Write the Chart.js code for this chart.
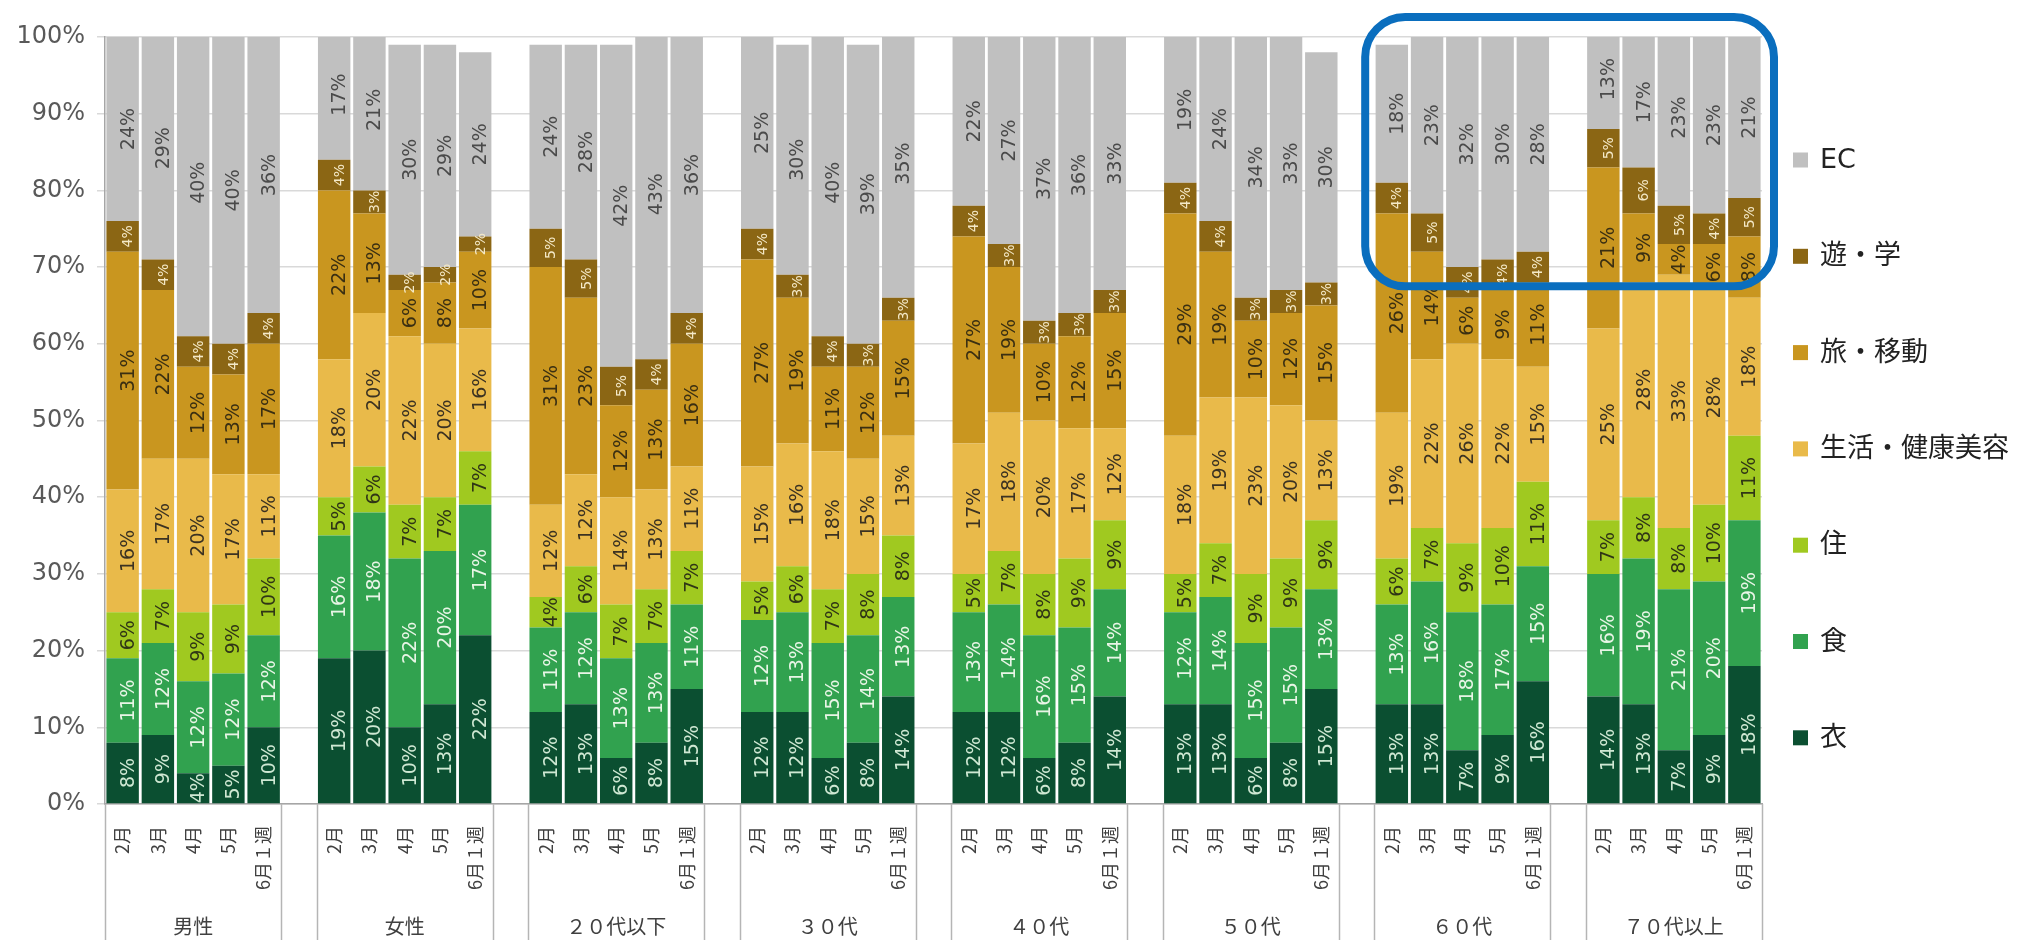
<!DOCTYPE html>
<html>
<head>
<meta charset="utf-8">
<script src="https://cdn.jsdelivr.net/npm/chart.js@4.4.1/dist/chart.umd.min.js"></script>
<style>
  html, body { margin: 0; padding: 0; background: #ffffff; }
  #wrap { width: 2017px; height: 940px; position: relative; }
</style>
</head>
<body>
<div id="wrap"><canvas id="chart" width="2017" height="940"></canvas></div>
<script>
// Respondent segments and survey periods (5 bars per segment)
const groups  = ['男性', '女性', '２０代以下', '３０代', '４０代', '５０代', '６０代', '７０代以上'];
const periods = ['2月', '3月', '4月', '5月', '6月１週'];

// Share of spending by category (%), listed segment by segment, period by period
const clothing = [ 8,  9,  4,  5, 10,   19, 20, 10, 13, 22,   12, 13,  6,  8, 15,   12, 12,  6,  8, 14,
                  12, 12,  6,  8, 14,   13, 13,  6,  8, 15,   13, 13,  7,  9, 16,   14, 13,  7,  9, 18];
const food     = [11, 12, 12, 12, 12,   16, 18, 22, 20, 17,   11, 12, 13, 13, 11,   12, 13, 15, 14, 13,
                  13, 14, 16, 15, 14,   12, 14, 15, 15, 13,   13, 16, 18, 17, 15,   16, 19, 21, 20, 19];
const housing  = [ 6,  7,  9,  9, 10,    5,  6,  7,  7,  7,    4,  6,  7,  7,  7,    5,  6,  7,  8,  8,
                   5,  7,  8,  9,  9,    5,  7,  9,  9,  9,    6,  7,  9, 10, 11,    7,  8,  8, 10, 11];
const living   = [16, 17, 20, 17, 11,   18, 20, 22, 20, 16,   12, 12, 14, 13, 11,   15, 16, 18, 15, 13,
                  17, 18, 20, 17, 12,   18, 19, 23, 20, 13,   19, 22, 26, 22, 15,   25, 28, 33, 28, 18];
const travel   = [31, 22, 12, 13, 17,   22, 13,  6,  8, 10,   31, 23, 12, 13, 16,   27, 19, 11, 12, 15,
                  27, 19, 10, 12, 15,   29, 19, 10, 12, 15,   26, 14,  6,  9, 11,   21,  9,  4,  6,  8];
const leisure  = [ 4,  4,  4,  4,  4,    4,  3,  2,  2,  2,    5,  5,  5,  4,  4,    4,  3,  4,  3,  3,
                   4,  3,  3,  3,  3,    4,  4,  3,  3,  3,    4,  5,  4,  4,  4,    5,  6,  5,  4,  5];
const ecShare  = [24, 29, 40, 40, 36,   17, 21, 30, 29, 24,   24, 28, 42, 43, 36,   25, 30, 40, 39, 35,
                  22, 27, 37, 36, 33,   19, 24, 34, 33, 30,   18, 23, 32, 30, 28,   13, 17, 23, 23, 21];

// Category axis: one slot per bar plus an empty slot between segments
const slotLabels = [];
const slotIndex = [];      // slot -> index into the value arrays (or -1 for a spacer)
groups.forEach((g, gi) => {
  periods.forEach((p, pi) => { slotLabels.push(p); slotIndex.push(gi * periods.length + pi); });
  if (gi < groups.length - 1) { slotLabels.push(''); slotIndex.push(-1); }
});
const spread = arr => slotIndex.map(k => (k < 0 ? null : arr[k]));

const LABEL_FONT = '"DejaVu Sans", "Noto Sans CJK JP", sans-serif';
const JP_FONT = '"Noto Sans CJK JP", "DejaVu Sans", sans-serif';

const series = [
  { label: '衣',             data: clothing, color: '#0B4F31', text: '#CFE8D3', size: 19 },
  { label: '食',             data: food,     color: '#31A24F', text: '#E8F5E6', size: 19 },
  { label: '住',             data: housing,  color: '#A0C920', text: '#2F3516', size: 19 },
  { label: '生活・健康美容', data: living,   color: '#E9BA4A', text: '#3B3222', size: 19 },
  { label: '旅・移動',       data: travel,   color: '#C9961F', text: '#3A2F12', size: 19 },
  { label: '遊・学',         data: leisure,  color: '#8B6614', text: '#F4E9C8', size: 14 },
  { label: 'EC',             data: ecShare,  color: '#C0C0C0', text: '#4A4A4A', size: 19 }
];

// Value labels written vertically inside each segment
const segmentLabels = {
  id: 'segmentLabels',
  afterDatasetsDraw(chart) {
    const ctx = chart.ctx;
    chart.data.datasets.forEach((ds, di) => {
      const meta = chart.getDatasetMeta(di);
      meta.data.forEach((bar, i) => {
        const v = ds.data[i];
        if (v == null) return;
        const { x, y, base } = bar.getProps(['x', 'y', 'base'], true);
        ctx.save();
        ctx.translate(x + 6, (y + base) / 2);
        ctx.rotate(-Math.PI / 2);
        ctx.font = ds.labelSize + 'px ' + LABEL_FONT;
        ctx.fillStyle = ds.labelColor;
        ctx.textAlign = 'center';
        ctx.textBaseline = 'middle';
        ctx.fillText(v + '%', 0, 0);
        ctx.restore();
      });
    });
  }
};

// Segment brackets below the axis, segment names, legend and highlight frame
const decorations = {
  id: 'decorations',
  afterDraw(chart) {
    const ctx = chart.ctx;
    const xs = chart.scales.x, ys = chart.scales.y;
    const area = chart.chartArea;
    const slotW = xs.getPixelForValue(1) - xs.getPixelForValue(0);
    const groupEdges = groups.map((g, gi) => {
      const first = gi * (periods.length + 1);
      const last = first + periods.length - 1;
      return [xs.getPixelForValue(first) - slotW / 2, xs.getPixelForValue(last) + slotW / 2];
    });

    ctx.save();
    ctx.strokeStyle = '#B5B5B5';
    ctx.lineWidth = 1.5;
    groupEdges.forEach(([l, r]) => {
      [l, r].forEach(px => {
        ctx.beginPath();
        ctx.moveTo(Math.round(px) + 0.5, area.bottom);
        ctx.lineTo(Math.round(px) + 0.5, chart.height);
        ctx.stroke();
      });
    });
    ctx.fillStyle = '#404040';
    ctx.font = '20px ' + JP_FONT;
    ctx.textAlign = 'center';
    ctx.textBaseline = 'middle';
    groups.forEach((g, gi) => {
      const [l, r] = groupEdges[gi];
      ctx.fillText(g, (l + r) / 2, 926);
    });

    // legend, top item = uppermost stack
    const items = chart.data.datasets.slice().reverse();
    ctx.textAlign = 'left';
    items.forEach((ds, i) => {
      const cy = 160 + i * 96.3;
      ctx.fillStyle = ds.backgroundColor;
      ctx.fillRect(1793, cy - 7.5, 15, 15);
      ctx.fillStyle = '#222222';
      ctx.font = '27px ' + LABEL_FONT;
      ctx.fillText(ds.label, 1820, cy + 1);
    });

    // rounded frame around the older age segments' upper part
    const [fl] = groupEdges[6];
    const [, fr] = groupEdges[7];
    const left = fl - 9, right = fr + 12;
    const top = ys.getPixelForValue(100) - 20;
    const bottom = ys.getPixelForValue(67.5);
    ctx.strokeStyle = '#0A6EBE';
    ctx.lineWidth = 8;
    ctx.beginPath();
    ctx.roundRect(left, top, right - left, bottom - top, 40);
    ctx.stroke();
    ctx.restore();
  }
};

new Chart(document.getElementById('chart'), {
  type: 'bar',
  data: {
    labels: slotLabels,
    datasets: series.map(s => ({
      label: s.label,
      data: spread(s.data),
      backgroundColor: s.color,
      labelColor: s.text,
      labelSize: s.size,
      barPercentage: 0.92,
      categoryPercentage: 1,
      borderWidth: 0
    }))
  },
  options: {
    responsive: false,
    animation: false,
    layout: { padding: { left: 0, right: 255, top: 37, bottom: 0 } },
    plugins: { legend: { display: false }, tooltip: { enabled: false } },
    scales: {
      x: {
        stacked: true,
        offset: true,
        grid: { display: false },
        border: { display: true, color: '#A6A6A6', width: 1.5 },
        ticks: {
          autoSkip: false, minRotation: 90, maxRotation: 90, padding: 14,
          color: '#404040', font: { size: 18, family: JP_FONT }
        },
        afterFit(scale) { scale.height = 136; }
      },
      y: {
        stacked: true,
        min: 0, max: 100,
        grid: { color: '#D9D9D9', lineWidth: 1.5, tickLength: 8, drawTicks: true },
        border: { display: true, color: '#A6A6A6', width: 1.5 },
        ticks: {
          stepSize: 10, padding: 12,
          callback: v => v + '%',
          color: '#595959', font: { size: 24, family: LABEL_FONT }
        },
        afterFit(scale) { scale.width = 105; }
      }
    }
  },
  plugins: [segmentLabels, decorations]
});
</script>
</body>
</html>
